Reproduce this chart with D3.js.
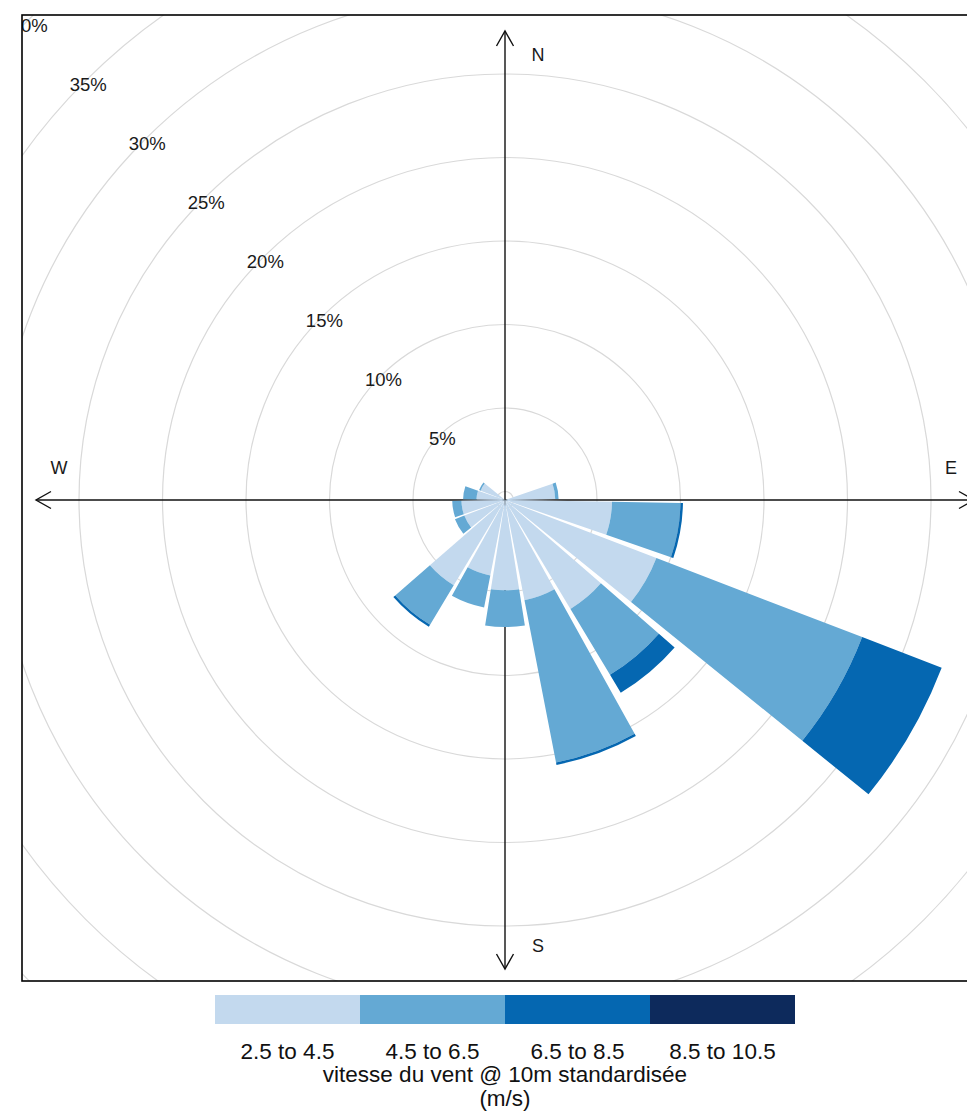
<!DOCTYPE html>
<html><head><meta charset="utf-8">
<script src="https://cdn.jsdelivr.net/npm/d3@7"></script>
<style>body{margin:0;background:#fff}text{font-family:"Liberation Sans",Arial,sans-serif}</style>
</head><body><svg id="c" width="967" height="1114"></svg>
<script>
// ---- data (percent frequency per direction and wind-speed band) ----
const directions = [0,20,40,60,80,100,120,140,160,180,200,220,240,260,280,300,320,340];
const band1 = [0,0,0,0,2.5,5.9,9.2,7.1,5.6,4.9,4.1,5.45,2.1,2.1,1.2,1.05,0,0];
const band2 = [0,0,0,0,0.2,4.1,13.2,4.6,9.9,2.2,1.95,2.75,0.6,0.55,0.8,0.1,0,0];
const band3 = [0,0,0,0,0,0.15,5.1,1.25,0.15,0,0,0.15,0,0,0,0,0,0];
const band4 = [0,0,0,0,0,0,0,0,0,0,0,0,0,0,0,0,0,0];
const bandLabels = ["2.5 to 4.5","4.5 to 6.5","6.5 to 8.5","8.5 to 10.5"];
const bandColors = ["#c3d9ee","#64a9d4","#0567b1","#0d2a5c"];
const ringTicks = [5,10,15,20,25,30,35,40];
const compass = ["N","E","S","W"];
const legendTitle = ["vitesse du vent @ 10m standardisée","(m/s)"];

const svg = d3.select("#c");
const cx = 505, cy = 500;
const panel = {x:22, y:15, w:966, h:966};
const r = d3.scaleLinear().domain([0,40]).range([8.5, 676.5]);

const rows = directions.map((d,i)=>({dir:d, b0:band1[i], b1:band2[i], b2:band3[i], b3:band4[i]}));
const keys = ["b0","b1","b2","b3"];
const stack = d3.stack().keys(keys)(rows);
const color = d3.scaleOrdinal().domain(keys).range(bandColors);

svg.append("defs").append("clipPath").attr("id","pc")
  .append("rect").attr("x",panel.x).attr("y",panel.y).attr("width",panel.w).attr("height",panel.h);

const g = svg.append("g").attr("clip-path","url(#pc)");
const c = g.append("g").attr("transform",`translate(${cx},${cy})`);

// rings
c.selectAll("circle.ring").data([0].concat(ringTicks)).join("circle")
  .attr("class","ring").attr("r",d=>r(d)).attr("fill","none")
  .attr("stroke","#d9d9d9").attr("stroke-width",1.2);

// axes with open arrowheads
const L = 469, ah = 15, aw = 8.5;
const axisG = c.append("g").attr("stroke","#111").attr("stroke-width",1.4).attr("fill","none");
axisG.append("line").attr("x1",0).attr("y1",-L).attr("x2",0).attr("y2",L);
axisG.append("line").attr("x1",-L).attr("y1",0).attr("x2",L).attr("y2",0);
[[0,-1],[1,0],[0,1],[-1,0]].forEach(([dx,dy])=>{
  const tx=dx*L, ty=dy*L, bx=tx-dx*ah, by=ty-dy*ah;
  const px=-dy*aw, py=dx*aw;
  axisG.append("polyline").attr("points",`${bx+px},${by+py} ${tx},${ty} ${bx-px},${by-py}`);
});

// wedges
const half = 9*Math.PI/180;
const arc = d3.arc();
stack.forEach(layer=>{
  c.append("g").selectAll("path").data(layer.filter(d=>d[1]-d[0]>0)).join("path")
    .attr("fill",color(layer.key))
    .attr("d",d=>{
      const a = d.data.dir*Math.PI/180;
      return arc({innerRadius: d[0]===0?0:r(d[0]), outerRadius:r(d[1]), startAngle:a-half, endAngle:a+half});
    });
});

// ring labels along NW diagonal
c.selectAll("text.rl").data(ringTicks).join("text")
  .attr("class","rl")
  .attr("x",d=>-r(d)*Math.SQRT1_2+2.5).attr("y",d=>-r(d)*Math.SQRT1_2+3.5)
  .attr("text-anchor","middle").attr("dominant-baseline","central")
  .attr("font-size",18.5).attr("fill","#1a1a1a").text(d=>d+"%");

// compass labels
const cpos = {N:[33,-445],E:[446,-32],S:[33,446],W:[-446,-32]};
c.selectAll("text.cp").data(compass).join("text")
  .attr("class","cp")
  .attr("x",d=>cpos[d][0]).attr("y",d=>cpos[d][1])
  .attr("text-anchor","middle").attr("dominant-baseline","central")
  .attr("font-size",18).attr("fill","#1a1a1a").text(d=>d);

// panel border
svg.append("rect").attr("x",panel.x).attr("y",panel.y).attr("width",panel.w).attr("height",panel.h)
  .attr("fill","none").attr("stroke","#000").attr("stroke-width",1.6);

// legend
const lx = d3.scaleBand().domain(bandLabels).range([215,795]).padding(0);
const lg = svg.append("g");
lg.selectAll("rect").data(bandLabels).join("rect")
  .attr("x",d=>lx(d)).attr("y",995).attr("width",lx.bandwidth()).attr("height",29)
  .attr("fill",(d,i)=>bandColors[i]);
lg.selectAll("text.ll").data(bandLabels).join("text")
  .attr("class","ll").attr("x",d=>lx(d)+lx.bandwidth()/2).attr("y",1051)
  .attr("text-anchor","middle").attr("dominant-baseline","central")
  .attr("font-size",22.5).attr("fill","#111").text(d=>d);
lg.selectAll("text.lt").data(legendTitle).join("text")
  .attr("class","lt").attr("x",505).attr("y",(d,i)=>1074+i*24)
  .attr("text-anchor","middle").attr("dominant-baseline","central")
  .attr("font-size",22.5).attr("fill","#111").text(d=>d);
</script></body></html>
